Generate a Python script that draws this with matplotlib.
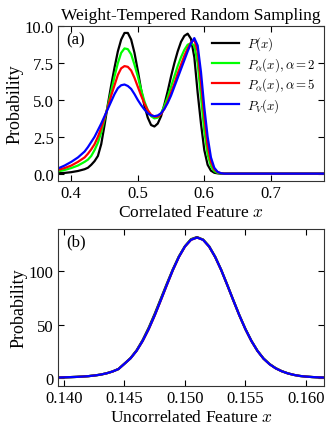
"""Weight-tempered random sampling: feature distributions, two panels."""

import matplotlib

matplotlib.use("Agg")
import matplotlib.pyplot as plt

# panel (a): correlated feature
x_corr = [0.38, 0.39, 0.40, 0.41, 0.42, 0.425, 0.43, 0.435, 0.44, 0.445,
          0.45, 0.455, 0.46, 0.465, 0.47, 0.475, 0.48, 0.485, 0.49, 0.495,
          0.50, 0.505, 0.51, 0.515, 0.52, 0.525, 0.53, 0.535, 0.54, 0.545,
          0.55, 0.555, 0.56, 0.565, 0.57, 0.575, 0.58, 0.585, 0.59, 0.595,
          0.60, 0.605, 0.61, 0.615, 0.62, 0.625, 0.63, 0.64, 0.70, 0.78]
p_orig = [0.03, 0.05, 0.10, 0.18, 0.30, 0.40, 0.60, 0.85, 1.2, 2.0,
          3.3, 4.7, 6.0, 7.2, 8.3, 9.1, 9.55, 9.55, 9.1, 8.2,
          7.0, 5.7, 4.6, 3.8, 3.3, 3.2, 3.4, 3.9, 4.7, 5.6,
          6.6, 7.5, 8.3, 8.95, 9.35, 9.5, 9.15, 7.9, 5.5, 3.4,
          1.6, 0.6, 0.2, 0.06, 0.02, 0.0, 0.0, 0.0, 0.0, 0.0]
p_alpha2 = [0.15, 0.25, 0.38, 0.55, 0.80, 0.95, 1.2, 1.6, 2.1, 2.8,
            3.7, 4.6, 5.6, 6.6, 7.5, 8.2, 8.5, 8.45, 8.1, 7.4,
            6.6, 5.7, 4.9, 4.3, 3.9, 3.75, 3.8, 4.1, 4.6, 5.2,
            5.9, 6.6, 7.3, 7.9, 8.4, 8.75, 8.85, 8.7, 7.5, 5.2,
            2.9, 1.3, 0.5, 0.17, 0.05, 0.01, 0.0, 0.0, 0.0, 0.0]
p_alpha5 = [0.25, 0.38, 0.55, 0.80, 1.1, 1.35, 1.65, 2.0, 2.5, 3.1,
            3.8, 4.5, 5.3, 6.0, 6.7, 7.15, 7.3, 7.25, 7.0, 6.5,
            5.9, 5.3, 4.75, 4.3, 4.0, 3.87, 3.87, 4.05, 4.4, 4.9,
            5.5, 6.1, 6.8, 7.4, 8.0, 8.5, 8.9, 9.1, 8.3, 6.2,
            3.9, 1.9, 0.8, 0.3, 0.1, 0.03, 0.0, 0.0, 0.0, 0.0]
p_v = [0.35, 0.55, 0.80, 1.1, 1.5, 1.8, 2.15, 2.5, 2.95, 3.4,
       3.9, 4.4, 4.9, 5.4, 5.8, 6.0, 6.05, 5.95, 5.75, 5.4,
       5.0, 4.65, 4.35, 4.1, 3.95, 3.9, 3.95, 4.1, 4.4, 4.8,
       5.3, 5.9, 6.5, 7.1, 7.7, 8.3, 8.85, 9.2, 8.7, 6.9,
       4.5, 2.5, 1.1, 0.4, 0.12, 0.03, 0.0, 0.0, 0.0, 0.0]

# panel (b): uncorrelated feature
x_unc = [0.1395, 0.1400, 0.1405, 0.1410, 0.1415, 0.1420, 0.1425, 0.1430,
         0.1435, 0.1440, 0.1445, 0.1450, 0.1455, 0.1460, 0.1465, 0.1470,
         0.1475, 0.1480, 0.1485, 0.1490, 0.1495, 0.1500, 0.1505, 0.1510,
         0.1515, 0.1520, 0.1525, 0.1530, 0.1535, 0.1540, 0.1545, 0.1550,
         0.1555, 0.1560, 0.1565, 0.1570, 0.1575, 0.1580, 0.1585, 0.1590,
         0.1595, 0.1600, 0.1605, 0.1610, 0.1615]
u_orig = [0.6, 0.8, 1.0, 1.2, 1.5, 1.9, 2.5, 3.3,
          4.5, 6.2, 8.6, 13.6, 18.8, 26.0, 35.5, 47.0,
          60.0, 74.0, 88.0, 101.5, 113.5, 123.0, 129.5, 131.5,
          129.0, 122.5, 112.8, 100.6, 86.7, 72.4, 58.4, 45.6,
          34.5, 25.4, 18.3, 13.2, 9.4, 6.6, 4.6, 3.1,
          2.1, 1.5, 1.1, 0.8, 0.6]
u_alpha2 = [0.6, 0.8, 1.0, 1.2, 1.5, 1.9, 2.5, 3.3,
            4.5, 6.2, 8.5, 13.5, 18.5, 25.6, 34.8, 46.0,
            58.8, 72.8, 87.0, 100.8, 113.2, 122.8, 129.2, 131.0,
            129.2, 123.0, 113.2, 101.0, 87.0, 72.8, 58.8, 46.0,
            34.8, 25.6, 18.3, 13.1, 9.3, 6.5, 4.5, 3.1,
            2.1, 1.5, 1.1, 0.8, 0.6]
u_alpha5 = [0.6, 0.8, 1.0, 1.2, 1.5, 1.9, 2.5, 3.3,
            4.5, 6.2, 8.5, 13.5, 18.5, 25.5, 34.6, 45.6,
            58.4, 72.4, 86.7, 100.6, 112.9, 122.6, 128.9, 131.0,
            129.0, 122.8, 113.0, 100.8, 86.9, 72.6, 58.6, 45.8,
            34.7, 25.4, 18.2, 13.0, 9.2, 6.5, 4.5, 3.1,
            2.1, 1.5, 1.1, 0.8, 0.6]
u_v = [0.6, 0.8, 1.0, 1.2, 1.5, 1.9, 2.5, 3.3,
       4.5, 6.2, 8.5, 13.5, 18.5, 25.5, 34.7, 45.8,
       58.6, 72.6, 86.9, 100.8, 113.0, 122.7, 128.9, 131.0,
       128.9, 122.7, 113.0, 100.8, 86.9, 72.6, 58.6, 45.8,
       34.7, 25.4, 18.2, 13.0, 9.2, 6.5, 4.5, 3.1,
       2.1, 1.5, 1.1, 0.8, 0.6]

labels = [r"$P(x)$", r"$P_\alpha(x), \alpha = 2$",
          r"$P_\alpha(x), \alpha = 5$", r"$P_V(x)$"]
colors = ["black", "#00ff00", "#ff0000", "#0000ff"]

plt.rcParams["font.family"] = ["Liberation Serif", "DejaVu Serif"]
plt.rcParams["mathtext.fontset"] = "cm"
plt.rcParams["font.size"] = 12

fig = plt.figure(figsize=(3.32, 4.35), dpi=100)
ax1 = fig.add_axes([0.1747, 0.5816, 0.8012, 0.3556])
ax2 = fig.add_axes([0.1747, 0.1110, 0.8012, 0.3603])

for ys, c, lab in zip([p_orig, p_alpha2, p_alpha5, p_v], colors, labels):
    ax1.plot(x_corr, ys, color=c, lw=1.6, label=lab)
for ys, c in zip([u_orig, u_alpha2, u_alpha5, u_v], colors):
    ax2.plot(x_unc, ys, color=c, lw=1.6)

ax1.set_xlim(0.38, 0.78)
ax1.set_ylim(-0.5, 10.0)
ax1.set_xticks([0.4, 0.5, 0.6, 0.7])
ax1.set_yticks([0.0, 2.5, 5.0, 7.5, 10.0])
ax1.set_xlabel("Correlated Feature $x$", fontsize=12.5, labelpad=2)
ax1.set_ylabel("Probability", fontsize=13, labelpad=1)
ax1.set_title("Weight-Tempered Random Sampling", fontsize=12.5, pad=5.5)
ax1.text(0.03, 0.97, "(a)", transform=ax1.transAxes, ha="left", va="top")
ax1.legend(loc="upper right", frameon=False, fontsize=9.3, handlelength=2.1,
           handletextpad=0.6, labelspacing=0.2, borderaxespad=0.25)

ax2.set_xlim(0.1395, 0.1615)
ax2.set_ylim(-7, 139)
ax2.set_xticks([0.140, 0.145, 0.150, 0.155, 0.160])
ax2.set_xticklabels(["0.140", "0.145", "0.150", "0.155", "0.160"])
ax2.set_yticks([0, 50, 100])
ax2.set_xlabel("Uncorrelated Feature $x$", fontsize=12.5, labelpad=2)
ax2.set_ylabel("Probability", fontsize=13, labelpad=1)
ax2.text(0.03, 0.97, "(b)", transform=ax2.transAxes, ha="left", va="top")

for ax in (ax1, ax2):
    ax.tick_params(direction="in", top=True, right=True, length=4,
                   width=0.8, labelsize=12, pad=3)
    for sp in ax.spines.values():
        sp.set_linewidth(0.8)
        sp.set_color("#333333")

fig.savefig("out.png", dpi=100)
